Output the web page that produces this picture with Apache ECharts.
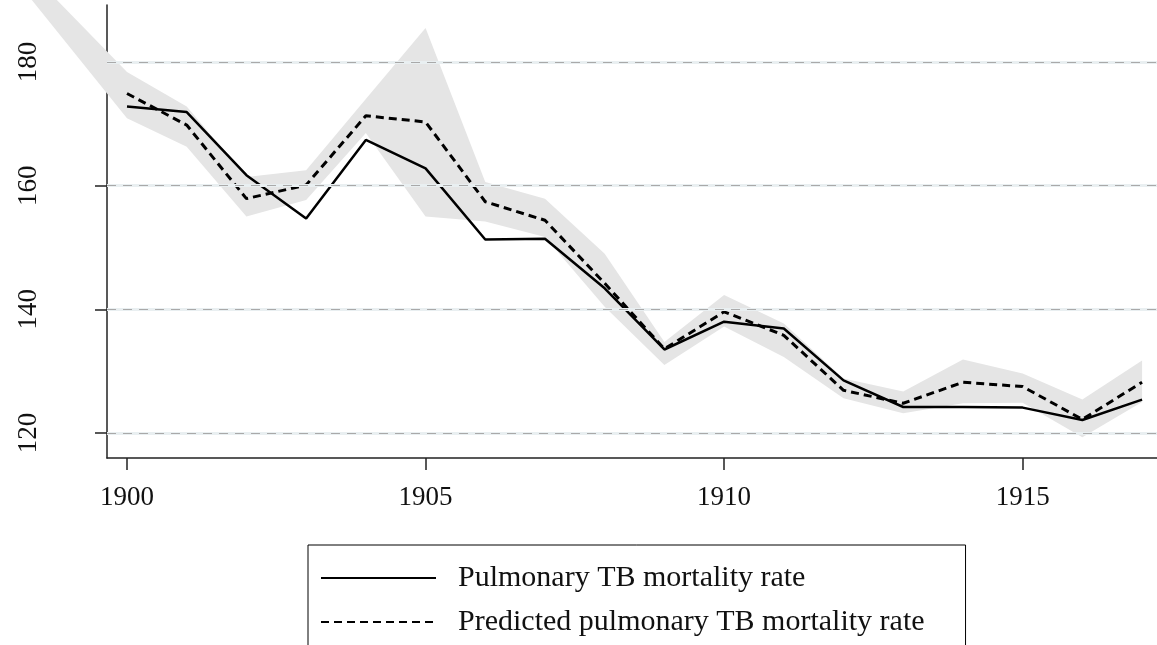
<!DOCTYPE html>
<html>
<head>
<meta charset="utf-8">
<script src="https://cdn.jsdelivr.net/npm/echarts@6/dist/echarts.min.js"></script>
<style>
  html, body { margin: 0; padding: 0; background: #fff; }
  #chart { width: 1157px; height: 645px; }
</style>
</head>
<body>
<div id="chart"></div>
<script>
// years on the x axis
const years = [1900, 1901, 1902, 1903, 1904, 1905, 1906, 1907, 1908,
  1909, 1910, 1911, 1912, 1913, 1914, 1915, 1916, 1917];

// observed rate
const tbRate = [172.8, 171.9, 161.7, 154.7, 167.4, 162.8, 151.3, 151.4, 143.4,
  133.5, 138.0, 136.9, 128.5, 124.2, 124.2, 124.1, 122.1, 125.4];

// predicted rate
const tbPredicted = [174.9, 169.8, 157.9, 160.1, 171.3, 170.3, 157.4, 154.4, 144.2,
  133.6, 139.6, 135.8, 126.9, 124.8, 128.2, 127.5, 122.2, 128.2];

// interval around the prediction (it starts before 1900, outside the plot)
const bandYears = [1898, 1900, 1901, 1902, 1903, 1904, 1905, 1906, 1907, 1908,
  1909, 1910, 1911, 1912, 1913, 1914, 1915, 1916, 1917];
const bandLow = [194.9, 170.9, 166.3, 155.0, 157.7, 168.5, 155.0, 154.2, 151.7, 140.4,
  131.0, 137.2, 132.3, 125.6, 123.2, 124.8, 124.9, 119.3, 125.0];
const bandHigh = [198.2, 178.4, 172.8, 161.4, 162.5, 174.0, 185.5, 160.6, 157.9, 149.0,
  134.7, 142.3, 137.7, 128.8, 126.7, 131.9, 129.6, 125.4, 131.7];

const xTicks = [1900, 1905, 1910, 1915];
const yTicks = [120, 140, 160, 180];
const seriesNames = ['Pulmonary TB mortality rate', 'Predicted pulmonary TB mortality rate'];

const FONT = 'Liberation Serif';
const AXIS_COLOR = '#222';

const chart = echarts.init(document.getElementById('chart'));

// gridlines: light wide line under a grey dashed one
const gridLines = [];
yTicks.forEach(v => {
  gridLines.push({ yAxis: v, lineStyle: { color: '#e9eff1', width: 3, type: 'solid' } });
  gridLines.push({ yAxis: v, lineStyle: { color: '#a9a9a9', width: 1.2, type: [9, 7] } });
});

const option = {
  animation: false,
  backgroundColor: '#fff',
  grid: { left: 107, right: 0, top: 5, bottom: 187 },
  xAxis: {
    type: 'value',
    min: 1899.665,
    max: 1917.25,
    axisLine: { lineStyle: { color: AXIS_COLOR, width: 1.5 } },
    axisTick: { length: 12, customValues: xTicks, lineStyle: { color: AXIS_COLOR, width: 1.5 } },
    axisLabel: {
      customValues: xTicks, margin: 26, color: '#111', fontFamily: FONT, fontSize: 27,
      formatter: v => String(v)
    },
    splitLine: { show: false }
  },
  yAxis: {
    type: 'value',
    min: 115.95,
    max: 189.22,
    axisLine: { show: true, lineStyle: { color: AXIS_COLOR, width: 1.5 } },
    axisTick: { show: true, length: 12, customValues: yTicks, lineStyle: { color: AXIS_COLOR, width: 1.5 } },
    axisLabel: {
      customValues: yTicks, rotate: 90, margin: 65, color: '#111', fontFamily: FONT, fontSize: 27,
      formatter: v => String(v)
    },
    splitLine: { show: false }
  },
  legend: {
    data: seriesNames,
    orient: 'vertical',
    left: 308,
    top: 545,
    height: 200,
    itemWidth: 115,
    itemHeight: 14,
    itemGap: 14,
    padding: [18, 41, 20, 12],
    borderColor: '#000',
    borderWidth: 1,
    borderRadius: 0,
    selectedMode: false,
    itemStyle: { opacity: 0, color: 'transparent', borderColor: 'transparent', borderWidth: 0 },
    textStyle: { fontFamily: FONT, fontSize: 30, color: '#111', lineHeight: 30, padding: [0, 0, 0, 17] }
  },
  series: [
    {
      // grid lines
      type: 'line',
      data: [],
      silent: true,
      z: 1,
      markLine: {
        silent: true,
        symbol: 'none',
        label: { show: false },
        data: gridLines
      }
    },
    {
      type: 'custom',
      name: 'band',
      clip: false,
      silent: true,
      z: 2,
      data: bandYears.map((yr, i) => [yr, bandLow[i], bandHigh[i]]),
      encode: { x: 0, y: [1, 2] },
      renderItem: function (params, api) {
        if (params.dataIndex !== 0) return;
        const pts = [];
        for (let i = 0; i < bandYears.length; i++) pts.push(api.coord([bandYears[i], bandHigh[i]]));
        for (let i = bandYears.length - 1; i >= 0; i--) pts.push(api.coord([bandYears[i], bandLow[i]]));
        return { type: 'polygon', shape: { points: pts }, style: { fill: '#e5e5e5' } };
      }
    },
    {
      type: 'line',
      name: seriesNames[0],
      data: years.map((yr, i) => [yr, tbRate[i]]),
      symbol: 'none',
      z: 4,
      lineStyle: { color: '#000', width: 2.5 },
      itemStyle: { color: '#000' }
    },
    {
      type: 'line',
      name: seriesNames[1],
      data: years.map((yr, i) => [yr, tbPredicted[i]]),
      symbol: 'none',
      z: 3,
      lineStyle: { color: '#000', width: 3, type: [8, 5] },
      itemStyle: { color: '#000' }
    }
  ]
};

chart.setOption(option);
</script>
</body>
</html>
